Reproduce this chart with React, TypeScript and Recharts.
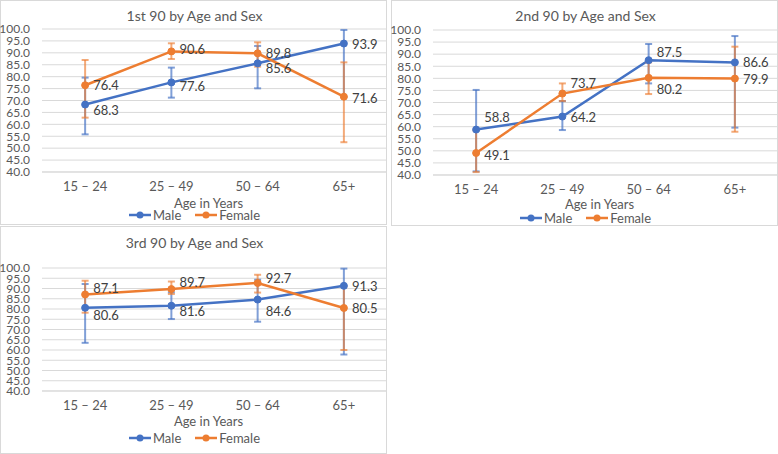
import React from "react";
import { LineChart, Line, XAxis, YAxis, CartesianGrid, ErrorBar, LabelList } from "recharts";

const categories = ["15 – 24", "25 – 49", "50 – 64", "65+"];
const yTicks = [40, 45, 50, 55, 60, 65, 70, 75, 80, 85, 90, 95, 100];

// 1st 90
const male1 = [68.3, 77.6, 85.6, 93.9];
const female1 = [76.4, 90.6, 89.8, 71.6];
const male1Low = [55.8, 71.2, 75.1, 71.5];
const male1High = [79.6, 83.8, 92.9, 99.6];
const female1Low = [62.8, 87.4, 84.2, 52.5];
const female1High = [87.0, 94.0, 94.4, 86.0];

// 2nd 90
const male2 = [58.8, 64.2, 87.5, 86.6];
const female2 = [49.1, 73.7, 80.2, 79.9];
const male2Low = [41.5, 58.6, 77.9, 59.6];
const male2High = [75.2, 70.6, 94.2, 97.5];
const female2Low = [41.2, 70.6, 73.5, 57.9];
const female2High = [58.4, 77.9, 86.6, 93.1];

// 3rd 90
const male3 = [80.6, 81.6, 84.6, 91.3];
const female3 = [87.1, 89.7, 92.7, 80.5];
const male3Low = [63.5, 75.1, 73.8, 57.8];
const male3High = [92.2, 88.1, 94.3, 99.7];
const female3Low = [78.2, 87.3, 88.0, 60.0];
const female3High = [93.8, 93.4, 96.7, 91.0];

const BLUE = "#4472C4";
const ORANGE = "#ED7D31";
const FONT = "Lato, 'Open Sans', sans-serif";
const TEXT = "#595959";

function buildRows(m: number[], f: number[], mLo: number[], mHi: number[], fLo: number[], fHi: number[]) {
  return categories.map((c, i) => ({
    cat: c,
    male: m[i],
    female: f[i],
    maleErr: [m[i] - mLo[i], mHi[i] - m[i]],
    femaleErr: [f[i] - fLo[i], fHi[i] - f[i]],
  }));
}

const makeLabel = (dys: number[]) => (props: any) => {
  const { x, y, value, index } = props;
  return (
    <text x={x + 8} y={y + (dys[index] || 0)} dominantBaseline="central" fontSize={13} fill="#404040" fontFamily={FONT}>
      {Number(value).toFixed(1)}
    </text>
  );
};

function LegendItem({ color, label }: { color: string; label: string }) {
  return (
    <span style={{ display: "inline-flex", alignItems: "center", marginRight: 14 }}>
      <svg width={22} height={8} style={{ marginRight: 2 }}>
        <line x1={0} y1={4} x2={22} y2={4} stroke={color} strokeWidth={2.5} />
        <circle cx={11} cy={4} r={3.5} fill={color} />
      </svg>
      {label}
    </span>
  );
}

interface PanelProps {
  left: number;
  top: number;
  height: number;
  title: string;
  rows: any[];
  plotTop: number;
  plotBottom: number;
  titleY: number;
  axisTitleY: number;
  legendY: number;
  maleDy: number[];
  femaleDy: number[];
}

function Panel(p: PanelProps) {
  const W = 387;
  return (
    <div
      style={{
        position: "absolute",
        left: p.left,
        top: p.top,
        width: W,
        height: p.height,
        border: "1px solid #d9d9d9",
        boxSizing: "border-box",
        background: "#fff",
        fontFamily: FONT,
        color: TEXT,
      }}
    >
      <div style={{ position: "absolute", left: 0, width: W, top: p.titleY - 9, textAlign: "center", fontSize: 14, lineHeight: "18px" }}>
        {p.title}
      </div>
      <div style={{ position: "absolute", left: -1, top: -1 }}>
        <LineChart
          width={W}
          height={p.height}
          data={p.rows}
          margin={{ top: p.plotTop, right: 0, bottom: 0, left: 0 }}
        >
          <CartesianGrid vertical={false} stroke="#d9d9d9" />
          <XAxis
            dataKey="cat"
            scale="band"
            height={p.height - p.plotBottom}
            tickLine={false}
            axisLine={{ stroke: "#d9d9d9" }}
            tickSize={0}
            tickMargin={10}
            tick={{ fill: TEXT, fontSize: 13, fontFamily: FONT }}
          />
          <YAxis
            width={42}
            domain={[40, 100]}
            ticks={yTicks}
            interval={0}
            tickFormatter={(v: number) => v.toFixed(1)}
            axisLine={false}
            tickLine={false}
            tickSize={0}
            tickMargin={12}
            tick={{ fill: TEXT, fontSize: 12, fontFamily: FONT }}
          />
          <Line
            dataKey="male"
            stroke={BLUE}
            strokeWidth={2.5}
            dot={{ r: 3.5, fill: BLUE, stroke: BLUE, strokeWidth: 1 }}
            isAnimationActive={false}
          >
            <ErrorBar dataKey="maleErr" width={3.5} strokeWidth={2} stroke="rgba(68,114,196,0.68)" direction="y" />
            <LabelList dataKey="male" content={makeLabel(p.maleDy)} />
          </Line>
          <Line
            dataKey="female"
            stroke={ORANGE}
            strokeWidth={2.5}
            dot={{ r: 3.5, fill: ORANGE, stroke: ORANGE, strokeWidth: 1 }}
            isAnimationActive={false}
          >
            <ErrorBar dataKey="femaleErr" width={3.5} strokeWidth={2} stroke="rgba(237,125,49,0.65)" direction="y" />
            <LabelList dataKey="female" content={makeLabel(p.femaleDy)} />
          </Line>
        </LineChart>
      </div>
      <div style={{ position: "absolute", left: 14, width: W, top: p.axisTitleY - 8, textAlign: "center", fontSize: 13, lineHeight: "16px" }}>
        Age in Years
      </div>
      <div style={{ position: "absolute", left: 7, width: W, top: p.legendY - 8, textAlign: "center", fontSize: 13, lineHeight: "16px" }}>
        <LegendItem color={BLUE} label="Male" />
        <LegendItem color={ORANGE} label="Female" />
      </div>
    </div>
  );
}

export default function App() {
  return (
    <div style={{ position: "absolute", left: 0, top: 0, width: 778, height: 454, background: "#fff" }}>
      <Panel
        left={0}
        top={0}
        height={225}
        title="1st 90 by Age and Sex"
        rows={buildRows(male1, female1, male1Low, male1High, female1Low, female1High)}
        plotTop={29}
        plotBottom={172}
        titleY={15}
        axisTitleY={202}
        legendY={213}
        maleDy={[5, 4, 5, 0]}
        femaleDy={[0, -2, 0, 1]}
      />
      <Panel
        left={391}
        top={0}
        height={226}
        title="2nd 90 by Age and Sex"
        rows={buildRows(male2, female2, male2Low, male2High, female2Low, female2High)}
        plotTop={30}
        plotBottom={175}
        titleY={15}
        axisTitleY={203}
        legendY={216}
        maleDy={[-13, 0, -8, 0]}
        femaleDy={[2, -11, 11, 0]}
      />
      <Panel
        left={0}
        top={226}
        height={228}
        title="3rd 90 by Age and Sex"
        rows={buildRows(male3, female3, male3Low, male3High, female3Low, female3High)}
        plotTop={42}
        plotBottom={165}
        titleY={16}
        axisTitleY={194}
        legendY={210}
        maleDy={[7, 5, 11, 0]}
        femaleDy={[-6, -7, -5, 0]}
      />
    </div>
  );
}
